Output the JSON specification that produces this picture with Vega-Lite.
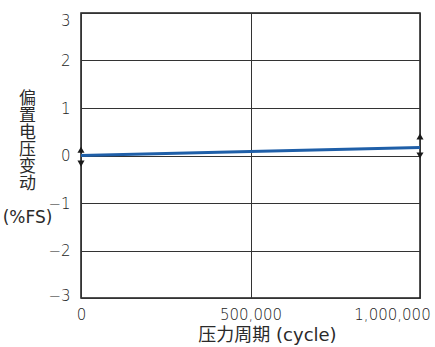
{
  "$schema": "https://vega.github.io/schema/vega-lite/v6.json",
  "width": 339,
  "height": 285,
  "autosize": {"type": "none"},
  "padding": {"left": 81, "top": 13, "right": 15, "bottom": 49},
  "background": "white",
  "config": {
    "view": {"stroke": "#1a1a1a", "strokeWidth": 1.5},
    "font": "DejaVu Sans, Noto Sans CJK SC"
  },
  "datasets": {
    "drift": [
      {"cycle": 0, "value": 0},
      {"cycle": 1000000, "value": 0.17}
    ],
    "heads": [
      {"cycle": 0, "value": 0.12, "dir": "up"},
      {"cycle": 0, "value": -0.17, "dir": "down"},
      {"cycle": 1000000, "value": 0.4, "dir": "up"},
      {"cycle": 1000000, "value": 0.0, "dir": "down"}
    ]
  },
  "encoding": {
    "x": {
      "field": "cycle",
      "type": "quantitative",
      "scale": {"domain": [0, 1000000], "nice": false},
      "axis": {
        "values": [0, 500000, 1000000],
        "format": ",d",
        "title": "压力周期 (cycle)",
        "titleFont": "DejaVu Sans, Noto Sans CJK SC",
        "titleFontSize": 18,
        "titleFontWeight": "normal",
        "titleColor": "#2a2a2a",
        "titleX": 186,
        "titleY": 37,
        "titleAlign": "center",
        "titleBaseline": "middle",
        "labelFontSize": 15,
        "labelFontWeight": 300,
        "labelColor": "#222222",
        "labelFlush": false,
        "labelPadding": 9,
        "labelOffset": {"expr": "datum.value == 1000000 ? -28 : 0"},
        "ticks": false,
        "tickSize": 0,
        "domain": false,
        "grid": true,
        "gridColor": "#333333",
        "gridWidth": 1,
        "gridOpacity": 1
      }
    },
    "y": {
      "field": "value",
      "type": "quantitative",
      "scale": {"domain": [-3, 3], "nice": false},
      "axis": {
        "values": [-3, -2, -1, 0, 1, 2, 3],
        "title": ["偏", "置", "电", "压", "变", "动", "\u200b", "(%FS)"],
        "titleFont": "DejaVu Sans, Noto Sans CJK SC",
        "titleFontSize": 17,
        "titleFontWeight": "normal",
        "titleColor": "#2a2a2a",
        "titleAngle": 0,
        "titleX": -54,
        "titleY": 85,
        "titleAlign": "center",
        "titleBaseline": "middle",
        "titleLineHeight": 17,
        "labelFontSize": 15,
        "labelFontWeight": 300,
        "labelColor": "#222222",
        "labelFlush": false,
        "labelPadding": 11,
        "labelOffset": {"expr": "datum.value == 3 ? 7 : datum.value == -3 ? -3 : 0"},
        "ticks": false,
        "tickSize": 0,
        "domain": false,
        "grid": true,
        "gridColor": "#333333",
        "gridWidth": 1,
        "gridOpacity": 1
      }
    }
  },
  "layer": [
    {
      "data": {"name": "drift"},
      "mark": {"type": "line", "color": "#1f5fa8", "strokeWidth": 3}
    },
    {
      "data": {"name": "heads"},
      "mark": {"type": "point", "filled": true, "color": "#1a1a1a", "opacity": 1, "size": 50},
      "encoding": {
        "shape": {
          "field": "dir",
          "type": "nominal",
          "scale": {"domain": ["up", "down"], "range": ["triangle-up", "triangle-down"]},
          "legend": null
        }
      }
    }
  ]
}
